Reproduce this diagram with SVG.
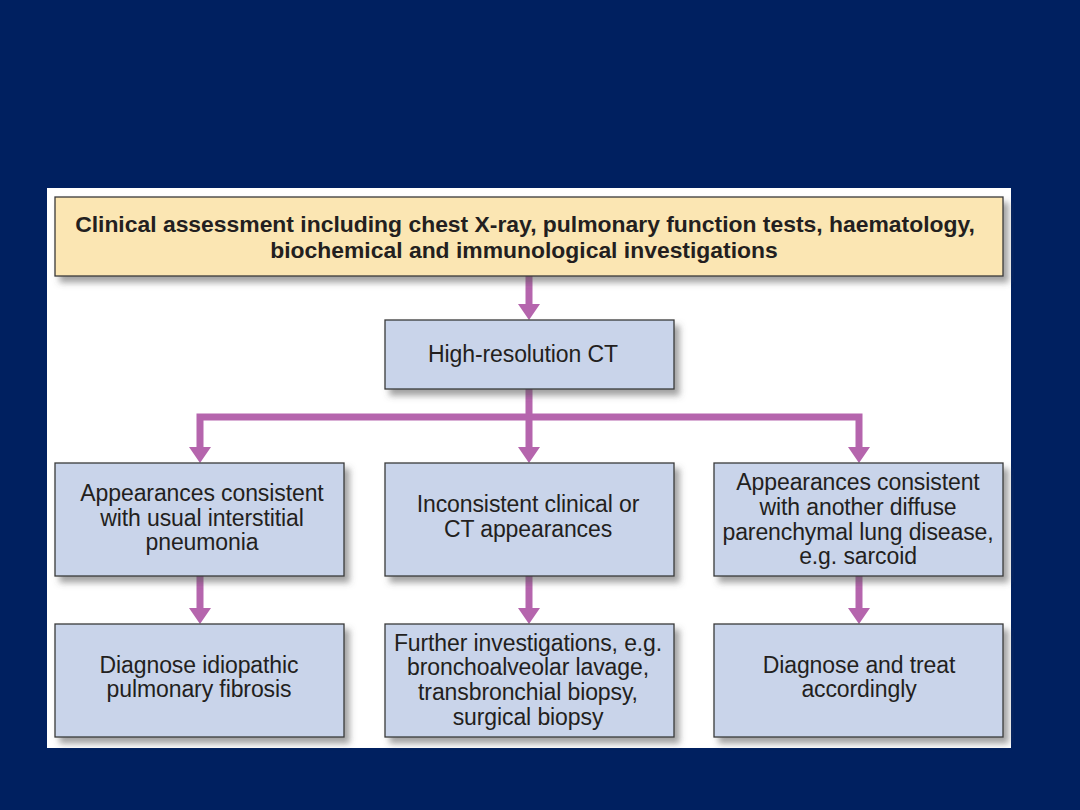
<svg xmlns="http://www.w3.org/2000/svg" width="1080" height="810" viewBox="0 0 1080 810">
<defs>
<style>
.box{fill:#c9d4ea;stroke:#3a3a3a;stroke-width:1.3}
.top{fill:#fbe6b3;stroke:#3a3a3a;stroke-width:1.3}
.t{font-family:"Liberation Sans",Arial,sans-serif;font-size:23px;fill:#231f20;text-anchor:middle;letter-spacing:-0.1px}
.b{font-weight:bold;font-size:22.9px;letter-spacing:0}
.c{fill:none;stroke:#b565ad;stroke-width:7}
.h{fill:#b565ad}
</style>
<filter id="sh" x="-10%" y="-10%" width="130%" height="140%">
<feDropShadow dx="5" dy="6" stdDeviation="3" flood-color="#555" flood-opacity="0.55"/>
</filter>
</defs>
<rect width="1080" height="810" fill="#002060"/>
<rect x="47" y="188" width="964" height="560" fill="#ffffff"/>
<g id="connectors">
<line class="c" x1="529" y1="276" x2="529" y2="306"/>
<polygon class="h" points="518,304 540,304 529,320"/>
<path class="c" d="M529 389 V449 M200 449 V417 H859 V449"/>
<polygon class="h" points="189,447 211,447 200,463"/>
<polygon class="h" points="518,447 540,447 529,463"/>
<polygon class="h" points="848,447 870,447 859,463"/>
<line class="c" x1="200" y1="576" x2="200" y2="610"/>
<polygon class="h" points="189,608 211,608 200,624"/>
<line class="c" x1="529" y1="576" x2="529" y2="610"/>
<polygon class="h" points="518,608 540,608 529,624"/>
<line class="c" x1="859" y1="576" x2="859" y2="610"/>
<polygon class="h" points="848,608 870,608 859,624"/>
</g>
<g id="n-clinical">
<rect class="top" x="55" y="197" width="948" height="79" filter="url(#sh)"/>
<text class="t b" x="525" y="232">Clinical assessment including chest X-ray, pulmonary function tests, haematology,</text>
<text class="t b" x="524" y="258">biochemical and immunological investigations</text>
</g>
<g id="n-hrct">
<rect class="box" x="385" y="320" width="289" height="69" filter="url(#sh)"/>
<text class="t" x="523" y="362">High-resolution CT</text>
</g>
<g id="n-uip">
<rect class="box" x="55" y="463" width="289" height="113" filter="url(#sh)"/>
<text class="t" x="202" y="501">Appearances consistent</text>
<text class="t" x="202" y="526">with usual interstitial</text>
<text class="t" x="202" y="550">pneumonia</text>
</g>
<g id="n-inconsistent">
<rect class="box" x="385" y="463" width="289" height="113" filter="url(#sh)"/>
<text class="t" x="528" y="512">Inconsistent clinical or</text>
<text class="t" x="528" y="537">CT appearances</text>
</g>
<g id="n-other">
<rect class="box" x="714" y="463" width="289" height="113" filter="url(#sh)"/>
<text class="t" x="858" y="490">Appearances consistent</text>
<text class="t" x="858" y="515">with another diffuse</text>
<text class="t" x="858" y="540">parenchymal lung disease,</text>
<text class="t" x="858" y="564">e.g. sarcoid</text>
</g>
<g id="n-ipf">
<rect class="box" x="55" y="624" width="289" height="113" filter="url(#sh)"/>
<text class="t" x="199" y="673">Diagnose idiopathic</text>
<text class="t" x="199" y="697">pulmonary fibrosis</text>
</g>
<g id="n-further">
<rect class="box" x="385" y="624" width="289" height="113" filter="url(#sh)"/>
<text class="t" x="528" y="651">Further investigations, e.g.</text>
<text class="t" x="528" y="675">bronchoalveolar lavage,</text>
<text class="t" x="528" y="700">transbronchial biopsy,</text>
<text class="t" x="528" y="725">surgical biopsy</text>
</g>
<g id="n-treat">
<rect class="box" x="714" y="624" width="289" height="113" filter="url(#sh)"/>
<text class="t" x="859" y="673">Diagnose and treat</text>
<text class="t" x="859" y="697">accordingly</text>
</g>
</svg>
